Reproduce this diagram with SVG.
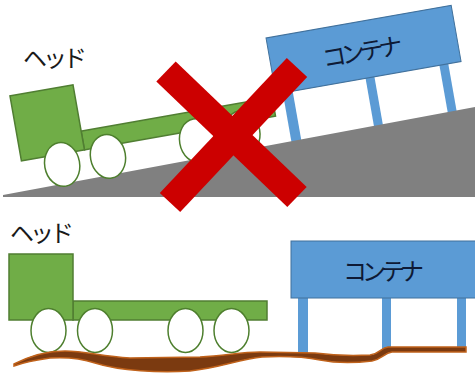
<svg xmlns="http://www.w3.org/2000/svg" width="475" height="374" viewBox="0 0 475 374">
  <style>
    .cab { fill: #70AD47; stroke: #507E32; stroke-width: 1.5; }
    .wheel { fill: #FFFFFF; stroke: #4E7F2E; stroke-width: 1.5; }
    .box { fill: #5B9BD5; stroke: #41719C; stroke-width: 1; }
    .leg { fill: #5B9BD5; }
    .label { font-family: "Meiryo UI", "Noto Sans CJK JP", sans-serif; font-size: 24px; fill: #1a1a1a; letter-spacing: -4px; }
    .boxlabel { font-family: "Meiryo UI", "Noto Sans CJK JP", sans-serif; font-size: 24px; fill: #0e1a36; letter-spacing: -5px; text-anchor: middle; }
    .cross { stroke: #CC0000; stroke-width: 28; stroke-linecap: butt; }
  </style>
  <rect width="475" height="374" fill="#FFFFFF"/>

  <!-- Upper scene: parked on a slope -->
  <g id="container-slope-legs" transform="translate(-62.4,-148.8) rotate(-10)">
    <rect class="leg" x="298" y="296" width="10" height="64"/>
    <rect class="leg" x="382" y="296" width="9" height="64"/>
    <rect class="leg" x="457" y="296" width="9" height="64"/>
  </g>
  <g id="slope">
    <polygon points="3,195 475,107 475,197 3,197" fill="#808080"/>
  </g>
  <text id="head-label-slope" class="label" x="23" y="67">ヘッド</text>
  <g id="truck-slope" transform="translate(-43,-152.6) rotate(-10)">
    <rect class="cab" x="73" y="301" width="194" height="19"/>
    <rect class="cab" x="9" y="254" width="64" height="66"/>
    <ellipse class="wheel" cx="48.5" cy="330.5" rx="17.5" ry="22"/>
    <ellipse class="wheel" cx="95" cy="330.5" rx="17.5" ry="22"/>
    <ellipse class="wheel" cx="185.5" cy="330.5" rx="17.5" ry="22"/>
    <ellipse class="wheel" cx="231.5" cy="330.5" rx="17.5" ry="22"/>
  </g>
  <g id="container-slope" transform="translate(-62.4,-148.8) rotate(-10)">
    <rect class="box" x="291" y="241" width="188" height="57"/>
    <text class="boxlabel" x="381" y="280">コンテナ</text>
  </g>
  <g id="cross">
    <line class="cross" x1="166" y1="71.5" x2="297" y2="197"/>
    <line class="cross" x1="297" y1="67.5" x2="170" y2="202.5"/>
  </g>

  <!-- Lower scene: on uneven ground -->
  <text id="head-label-ground" class="label" x="10" y="242">ヘッド</text>
  <g id="truck-ground">
    <rect class="cab" x="73" y="301" width="194" height="19"/>
    <rect class="cab" x="9" y="254" width="64" height="66"/>
    <ellipse class="wheel" cx="48.5" cy="330.5" rx="17.5" ry="22"/>
    <ellipse class="wheel" cx="95" cy="330.5" rx="17.5" ry="22"/>
    <ellipse class="wheel" cx="185.5" cy="330.5" rx="17.5" ry="22"/>
    <ellipse class="wheel" cx="231.5" cy="330.5" rx="17.5" ry="22"/>
  </g>
  <g id="container-ground">
    <rect class="leg" x="298" y="296" width="10" height="60"/>
    <rect class="leg" x="382" y="296" width="9" height="54"/>
    <rect class="leg" x="457" y="296" width="9" height="54"/>
    <rect class="box" x="291" y="241" width="188" height="57"/>
    <text class="boxlabel" x="381" y="280">コンテナ</text>
  </g>
  <g id="ground">
    <path d="M14,364 C30,356 45,351 65,351 C85,351 100,356 130,358 L200,357 C225,356 240,352 260,352 L315,353 C330,355 350,356 370,355 C380,354 380,348 388,347 L466,347 L466,352 L392,352 C384,353 382,359 372,361 C355,363 335,363 320,360 C305,357 285,356 262,357 C240,359 220,368 190,371 C160,373 120,371 95,363 C80,358 65,357 50,358 C35,360 22,363 14,366 Z" fill="#7B3A10" stroke="#C0621B" stroke-width="1.5"/>
  </g>
</svg>
